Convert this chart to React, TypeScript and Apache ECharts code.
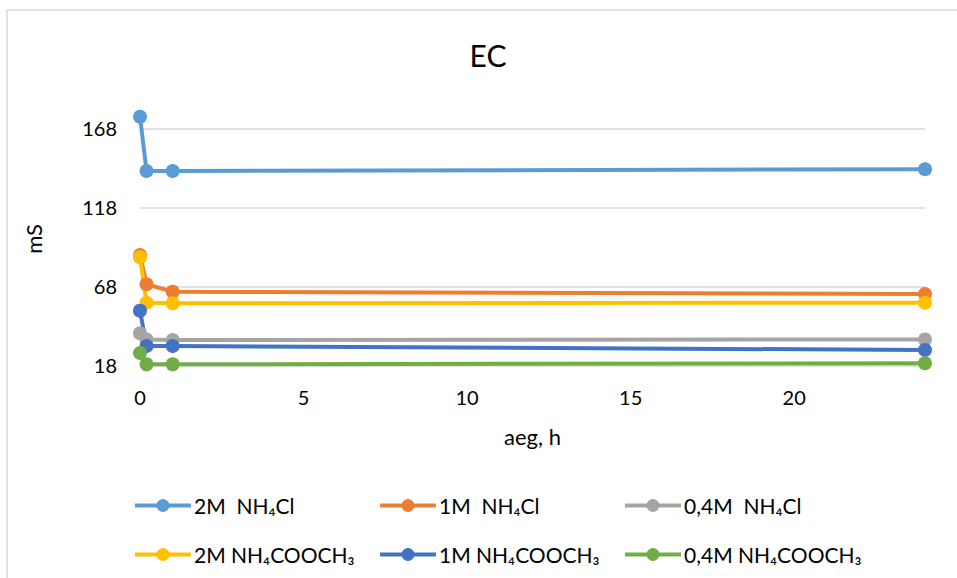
import { useEffect, useRef } from 'react';
import * as echarts from 'echarts';

// Sampling times, hours
const hours = [0, 0.2, 1, 24];

// Electrical conductivity, mS
const ec2MNH4Cl = [175.3, 141.0, 141.0, 142.1];
const ec1MNH4Cl = [87.8, 69.3, 64.6, 63.1];
const ec04MNH4Cl = [38.3, 34.3, 34.0, 34.4];
const ec2MNH4Ac = [86.4, 57.6, 57.2, 57.6];
const ec1MNH4Ac = [52.6, 30.2, 30.2, 27.7];
const ec04MNH4Ac = [25.8, 18.6, 18.6, 19.3];

const seriesNames = [
  '2M  NH₄Cl',
  '1M  NH₄Cl',
  '0,4M  NH₄Cl',
  '2M NH₄COOCH₃',
  '1M NH₄COOCH₃',
  '0,4M NH₄COOCH₃',
];
const seriesValues = [ec2MNH4Cl, ec1MNH4Cl, ec04MNH4Cl, ec2MNH4Ac, ec1MNH4Ac, ec04MNH4Ac];
const colors = ['#5B9BD5', '#ED7D31', '#A5A5A5', '#FFC000', '#4472C4', '#70AD47'];

const yTicks = [18, 68, 118, 168];
const xTicks = [0, 5, 10, 15, 20];
const xMin = 0;
const xMax = 24;
const yMin = 18;
const yMax = 178;

const FONT = 'Lato';

export default function App() {
  const ref = useRef<HTMLDivElement>(null);

  useEffect(() => {
    if (!ref.current) return;
    const chart = echarts.init(ref.current, undefined, { renderer: 'svg' });

    const legendLefts = [133, 378, 623];

    chart.setOption({
      animation: false,
      backgroundColor: '#ffffff',
      textStyle: { fontFamily: FONT },
      grid: { left: 140, right: 32, top: 112.5, bottom: 212.7 },
      xAxis: {
        type: 'value',
        min: xMin,
        max: xMax,
        axisLine: { show: false },
        axisTick: { show: false, customValues: xTicks },
        splitLine: { show: false },
        axisLabel: { show: false, customValues: xTicks },
      },
      yAxis: {
        type: 'value',
        min: yMin,
        max: yMax,
        axisLine: { show: false },
        axisTick: { show: false, customValues: yTicks },
        axisLabel: { show: false, customValues: yTicks },
        splitLine: { show: true, lineStyle: { color: '#d9d9d9', width: 1.5 } },
      },
      legend: legendLefts.map((left, c) => ({
        orient: 'vertical',
        left,
        top: 495,
        padding: 0,
        itemGap: 28,
        itemWidth: 56,
        itemHeight: 16,
        lineStyle: { width: 4 },
        data: [seriesNames[c], seriesNames[c + 3]],
        textStyle: {
          fontSize: 21,
          lineHeight: 18,
          color: '#000000',
          fontFamily: FONT,
          padding: [0, 0, 0, -2],
        },
      })),
      series: seriesValues.map((vals, i) => ({
        name: seriesNames[i],
        type: 'line',
        data: hours.map((h, j) => [h, vals[j]]),
        symbol: 'circle',
        symbolSize: 14,
        showSymbol: true,
        clip: false,
        color: colors[i],
        lineStyle: { width: 4, color: colors[i] },
        itemStyle: { color: colors[i] },
      })),
    });

    // Tick labels and axis titles, placed through the grid's coordinate system
    const toPx = (x: number, y: number) =>
      chart.convertToPixel({ gridIndex: 0 }, [x, y]) as number[];
    const [xLeft, yBottom] = toPx(xMin, yMin);
    const [xRight, yTop] = toPx(xMax, yMax);

    const text = (
      t: string,
      x: number,
      y: number,
      size: number,
      align: string,
      rotation = 0
    ) => ({
      type: 'text',
      x,
      y,
      rotation,
      silent: true,
      style: {
        text: t,
        font: `${size}px ${FONT}`,
        fill: '#000000',
        textAlign: align,
        textVerticalAlign: 'middle',
      },
    });

    const graphics: any[] = [
      {
        type: 'rect',
        z: -1,
        silent: true,
        shape: { x: 7, y: 10, width: 960, height: 580 },
        style: { fill: 'none', stroke: '#d9d9d9', lineWidth: 1.5 },
      },
      text('EC', 488, 55, 30, 'center'),
      ...yTicks.map((v) => text(String(v), xLeft - 23, toPx(xMin, v)[1], 20, 'right')),
      ...xTicks.map((v) => text(String(v), toPx(v, yMin)[0], yBottom + 31.5, 20, 'center')),
      text('aeg, h', (xLeft + xRight) / 2, yBottom + 71, 22, 'center'),
      text('mS', 33, (yTop + yBottom) / 2, 22, 'center', Math.PI / 2),
    ];

    chart.setOption({ graphic: graphics });

    return () => chart.dispose();
  }, []);

  return (
    <div
      ref={ref}
      style={{ position: 'fixed', left: 0, top: 0, width: 957, height: 578 }}
    />
  );
}
